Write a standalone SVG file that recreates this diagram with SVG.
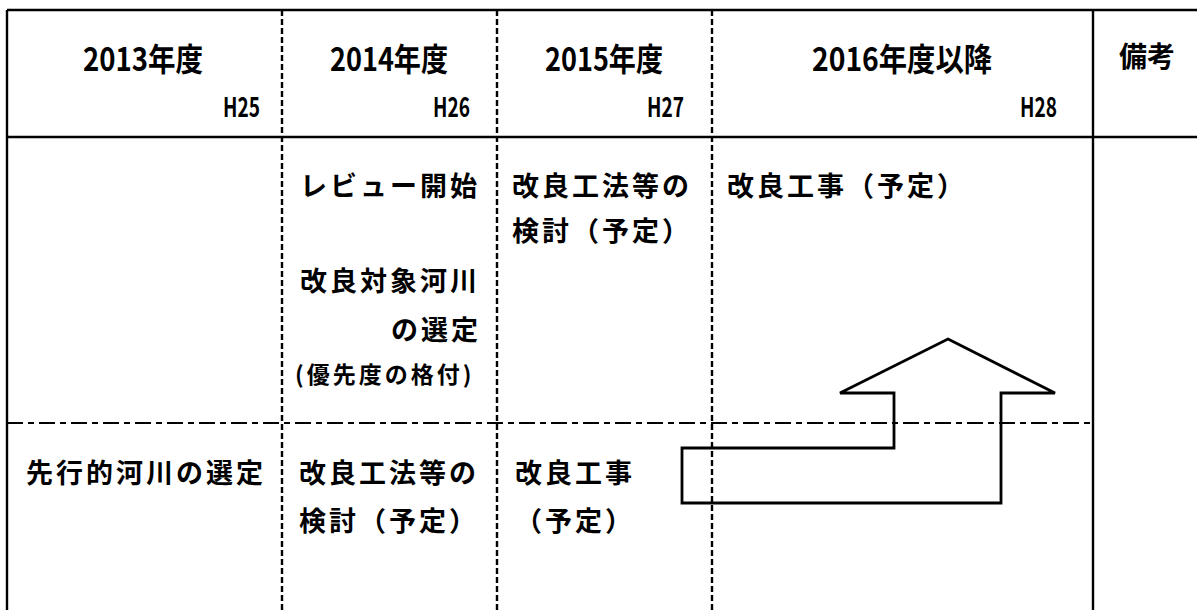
<svg xmlns="http://www.w3.org/2000/svg" width="1197" height="610" viewBox="0 0 1197 610">
<style>
.frame{stroke:#000;stroke-width:2.4;fill:none}
.vdash{stroke:#000;stroke-width:2.4;stroke-dasharray:6 3;fill:none}
.hdash{stroke:#000;stroke-width:2.2;stroke-dasharray:16 5 6 5;fill:none}
.arrow{stroke:#000;stroke-width:2.8;fill:none;stroke-linejoin:miter}
text{font-family:"Noto Sans CJK JP","Noto Sans",sans-serif;fill:#000;font-weight:bold}
.hd{font-size:32px}
.hn{font-size:27px}
.bk{font-size:28px}
.t{font-size:27px;letter-spacing:3px}
.s{font-size:23px;letter-spacing:3px}
</style>
<rect x="0" y="0" width="1197" height="610" fill="#fff"/>
<g id="grid">
<line class="frame" x1="7" y1="10" x2="1197" y2="10"/>
<line class="frame" x1="7" y1="137" x2="1197" y2="137"/>
<line class="frame" x1="7" y1="10" x2="7" y2="610"/>
<line class="frame" x1="1093" y1="10" x2="1093" y2="610"/>
<line class="vdash" x1="282" y1="10" x2="282" y2="610"/>
<line class="vdash" x1="497" y1="10" x2="497" y2="610"/>
<line class="vdash" x1="712" y1="10" x2="712" y2="610"/>
<line class="hdash" x1="7" y1="423" x2="1093" y2="423"/>
</g>
<g id="header">
<text class="hd" x="83" y="71" textLength="120" lengthAdjust="spacingAndGlyphs">2013年度</text>
<text class="hn" x="223" y="117" textLength="37" lengthAdjust="spacingAndGlyphs">H25</text>
<text class="hd" x="330" y="71" textLength="118" lengthAdjust="spacingAndGlyphs">2014年度</text>
<text class="hn" x="433" y="117" textLength="37" lengthAdjust="spacingAndGlyphs">H26</text>
<text class="hd" x="545" y="71" textLength="118" lengthAdjust="spacingAndGlyphs">2015年度</text>
<text class="hn" x="647" y="117" textLength="37" lengthAdjust="spacingAndGlyphs">H27</text>
<text class="hd" x="812" y="71" textLength="180" lengthAdjust="spacingAndGlyphs">2016年度以降</text>
<text class="hn" x="1020" y="117" textLength="37" lengthAdjust="spacingAndGlyphs">H28</text>
<text class="bk" x="1119" y="67">備考</text>
</g>
<g id="row1">
<text class="t" x="300" y="196">レビュー開始</text>
<text class="t" x="300" y="291">改良対象河川</text>
<text class="t" x="481" y="340" text-anchor="end">の選定</text>
<text class="s" x="295" y="383">(優先度の格付)</text>
<text class="t" x="512" y="196">改良工法等の</text>
<text class="t" x="512" y="241">検討（予定）</text>
<text class="t" x="727" y="196">改良工事（予定）</text>
</g>
<g id="row2">
<text class="t" x="26" y="483">先行的河川の選定</text>
<text class="t" x="299" y="483">改良工法等の</text>
<text class="t" x="299" y="531">検討（予定）</text>
<text class="t" x="515" y="483">改良工事</text>
<text class="t" x="515" y="531">（予定）</text>
</g>
<g id="connectors">
<polygon class="arrow" points="948,339 1055,393 1001,393 1001,503 682,503 682,448 894,448 894,393 840,393"/>
</g>
</svg>
